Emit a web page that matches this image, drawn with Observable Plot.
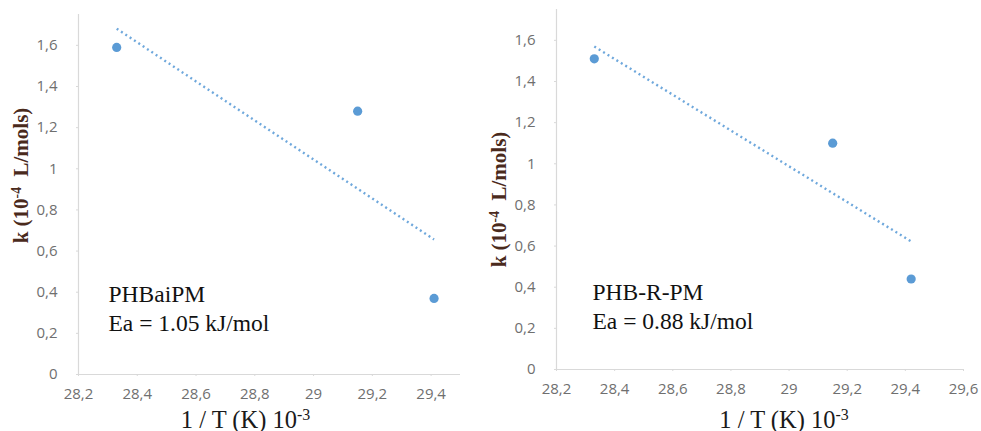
<!DOCTYPE html>
<html>
<head>
<meta charset="utf-8">
<script src="https://cdn.jsdelivr.net/npm/d3@7"></script>
<script src="https://cdn.jsdelivr.net/npm/@observablehq/plot@0.6"></script>
<style>
  html, body { margin: 0; padding: 0; background: #fff; }
  #wrap { display: flex; width: 981px; height: 431px; }
  svg { overflow: visible; }
</style>
</head>
<body>
<div id="wrap"></div>
<script>
// ---- data ----
const invTLeft = [28.33, 29.15, 29.41];
const kLeft = [1.59, 1.28, 0.37];
const invTRight = [28.33, 29.15, 29.42];
const kRight = [1.51, 1.10, 0.44];
const xTicksLeft = [28.2, 28.4, 28.6, 28.8, 29.0, 29.2, 29.4];
const xTicksRight = [28.2, 28.4, 28.6, 28.8, 29.0, 29.2, 29.4, 29.6];
const yTicks = [0, 0.2, 0.4, 0.6, 0.8, 1.0, 1.2, 1.4, 1.6];
const yTitle = "k (10^-4^  L/mols)";
const xTitle = "1 / T (K) 10^-3^";
const labelsLeft = ["PHBaiPM", "Ea = 1.05 kJ/mol"];
const labelsRight = ["PHB-R-PM", "Ea = 0.88 kJ/mol"];

const blue = "#5b9bd5";
const axisGray = "#d9d9d9";
const tickText = "#6f6f6f";
const fmt = d => String(d).replace(".", ",");

function superscriptify(svg) {
  svg.querySelectorAll("text").forEach(t => {
    if (t.children.length === 0 && t.textContent.includes("^")) {
      const parts = t.textContent.split("^");
      t.textContent = "";
      t.setAttribute("xml:space", "preserve");
      t.style.whiteSpace = "pre";
      parts.forEach((p, i) => {
        const ts = document.createElementNS("http://www.w3.org/2000/svg", "tspan");
        ts.textContent = p;
        if (i % 2 === 1) {
          ts.setAttribute("baseline-shift", "super");
          ts.setAttribute("font-size", "65%");
        }
        t.appendChild(ts);
      });
    }
  });
}

function chart(o) {
  const data = o.xs.map((x, i) => ({x, k: o.ks[i]}));
  const svg = Plot.plot({
    width: o.width,
    height: 431,
    marginLeft: o.ml, marginRight: o.mr, marginTop: o.mt, marginBottom: o.mb,
    x: {domain: o.xDomain},
    y: {domain: [0, 1.75]},
    style: {background: "#fff"},
    marks: [
      Plot.ruleX([o.xDomain[0]], {stroke: axisGray, strokeWidth: 1.2}),
      Plot.ruleY([0], {stroke: axisGray, strokeWidth: 1.2}),
      Plot.axisY(yTicks, {tickFormat: fmt, tickSize: 5, tickPadding: 16, stroke: axisGray,
        fill: tickText, fontSize: 15, fontFamily: "Open Sans", label: null}),
      Plot.axisX(o.xTicks, {tickFormat: fmt, tickSize: 4, tickPadding: 10, stroke: axisGray,
        fill: tickText, fontSize: 15, fontFamily: "Open Sans", label: null}),
      Plot.linearRegressionY(data, {x: "x", y: "k", ci: 0, stroke: "#6fa8dc", strokeWidth: 2.4,
        strokeDasharray: "2 3.2", strokeLinecap: "butt"}),
      Plot.dot(data, {x: "x", y: "k", r: 4.6, fill: blue}),
      Plot.text([o.labels.join("\n")], {frameAnchor: "bottom-left", textAnchor: "start",
        lineAnchor: "bottom", lineHeight: 1.2, dx: o.labDx, dy: o.labDy,
        fontFamily: "Liberation Serif", fontSize: 23.5, fill: "#111"}),
      Plot.text([yTitle], {frameAnchor: "left", rotate: -90, textAnchor: "middle", lineAnchor: "middle",
        dx: -57, dy: o.yTitleDy, fontFamily: "Liberation Serif", fontWeight: "bold", fontSize: 21,
        fill: "#4a2a1c"}),
      Plot.text([xTitle], {frameAnchor: "bottom", textAnchor: "middle", lineAnchor: "bottom",
        dx: o.xTitleDx, dy: o.xTitleDy, fontFamily: "Liberation Serif", fontSize: 24.5, fill: "#1a1a1a"})
    ]
  });
  superscriptify(svg);
  // the only <path> elements drawn are the regression trend lines
  svg.querySelectorAll("path").forEach(p => {
    p.setAttribute("stroke-dasharray", "2 3.2");
    p.style.strokeDasharray = "2 3.2";
  });
  return svg;
}

const wrap = document.getElementById("wrap");
wrap.appendChild(chart({
  xs: invTLeft, ks: kLeft, width: 490, ml: 78, mr: 30, mt: 14, mb: 57,
  xDomain: [28.2, 29.5], xTicks: xTicksLeft, labels: labelsLeft,
  labDx: 30, labDy: -44, yTitleDy: -19, xTitleDx: -24, xTitleDy: 53
}));
wrap.appendChild(chart({
  xs: invTRight, ks: kRight, width: 491, ml: 66, mr: 18, mt: 9, mb: 62,
  xDomain: [28.2, 29.6], xTicks: xTicksRight, labels: labelsRight,
  labDx: 36, labDy: -41, yTitleDy: 10, xTitleDx: 24, xTitleDy: 58
}));
</script>
</body>
</html>
